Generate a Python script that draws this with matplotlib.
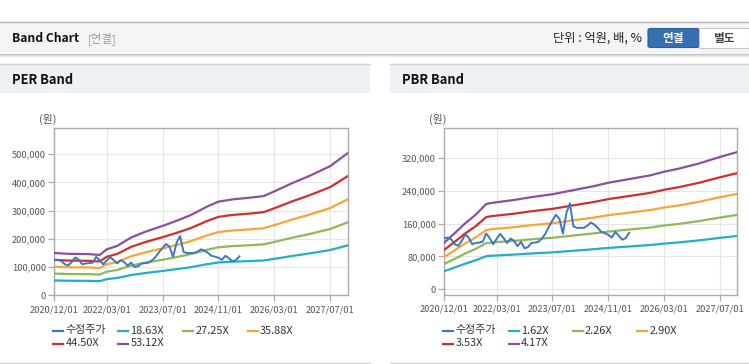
import matplotlib
matplotlib.use("Agg")
import matplotlib.pyplot as plt
from matplotlib.patches import Rectangle, FancyBboxPatch
from matplotlib.lines import Line2D
from matplotlib.ticker import FuncFormatter

plt.rcParams['font.family'] = ['Noto Sans CJK KR', 'DejaVu Sans']

# ---------------- data ----------------
tick_months = [0, 15, 31, 47, 63, 79]
tick_labels = ["2020/12/01", "2022/03/01", "2023/07/01", "2024/11/01", "2026/03/01", "2027/07/01"]

# adjusted stock price (수정주가), monthly from 2020/12
price_months = list(range(54))
price = [125, 126, 122, 110, 106, 118, 134, 126, 110, 113, 114, 116, 136, 125, 110, 123,
         135, 125, 113, 124, 118, 105, 116, 100, 103, 113, 114, 116, 124, 136, 153, 168,
         182, 172, 136, 186, 210, 154, 150, 150, 150, 155, 163, 158, 150, 140, 137, 133,
         126, 140, 131, 121, 125, 138]
price = [v * 1000 for v in price]

# PER bands
per_months = [0, 4, 10, 13, 15, 18, 22, 26, 31, 35, 39, 44, 47, 51, 56, 60, 64, 68, 73, 79, 84]
per_1863 = [52.6, 51.6, 51.2, 50.2, 57.2, 61.4, 71.9, 78.9, 86.3, 92.6, 99.6, 110.8, 116.4, 119.2, 121.3, 123.4, 131.2, 139.2, 148.3, 160.6, 176.8]
per_2725 = [77.0, 75.4, 74.9, 73.4, 83.6, 89.8, 105.2, 115.4, 126.2, 135.4, 145.7, 162.1, 170.3, 174.4, 177.5, 180.6, 191.9, 203.7, 217.0, 235.0, 258.6]
per_3588 = [101.3, 99.3, 98.6, 96.6, 110.1, 118.2, 138.5, 152.0, 166.2, 178.3, 191.8, 213.5, 224.3, 229.7, 233.7, 237.8, 252.6, 268.2, 285.7, 309.4, 340.5]
per_4450 = [125.7, 123.1, 122.3, 119.8, 136.5, 146.6, 171.7, 188.5, 206.1, 221.2, 237.9, 264.7, 278.1, 284.8, 289.8, 294.9, 313.3, 332.6, 354.3, 383.7, 422.2]
per_5312 = [150, 147, 146, 143, 163, 175, 205, 225, 246, 264, 284, 316, 332, 340, 346, 352, 374, 397, 423, 458, 504]
per_labels = ["18.63X", "27.25X", "35.88X", "44.50X", "53.12X"]

# PBR bands
pbr_months = [0, 3, 6, 9, 12, 13, 15, 20, 25, 31, 37, 43, 47, 53, 59, 63, 67, 73, 79, 84]
pbr_162 = [44.3, 53.2, 62.5, 70.7, 80.8, 81.6, 82.6, 84.7, 87.4, 90.1, 94.0, 97.9, 101.0, 104.5, 108.0, 111.5, 114.2, 119.3, 125.5, 130.1]
pbr_226 = [61.8, 74.3, 87.3, 98.6, 112.7, 113.8, 115.2, 118.2, 122.0, 125.7, 131.2, 136.6, 140.9, 145.8, 150.7, 155.6, 159.3, 166.4, 175.1, 181.6]
pbr_290 = [79.3, 95.3, 112.0, 126.6, 144.6, 146.0, 147.8, 151.6, 156.5, 161.3, 168.3, 175.2, 180.8, 187.1, 193.3, 199.6, 204.4, 213.5, 224.6, 233.0]
pbr_353 = [96.5, 116.0, 136.3, 154.1, 176.1, 177.8, 179.9, 184.5, 190.5, 196.4, 204.9, 213.3, 220.1, 227.7, 235.3, 242.9, 248.9, 259.9, 273.4, 283.6]
pbr_417 = [114, 137, 161, 182, 208, 210, 212.5, 218, 225, 232, 242, 252, 260, 269, 278, 287, 294, 307, 323, 335]
pbr_labels = ["1.62X", "2.26X", "2.90X", "3.53X", "4.17X"]

per_yticks = [0, 100000, 200000, 300000, 400000, 500000]
pbr_yticks = [0, 80000, 160000, 240000, 320000]

# ---------------- style ----------------
C_PRICE = "#3a78c6"
BAND_COLORS = ["#22aec4", "#90b758", "#f5a636", "#cf302c", "#8c4f9c"]

W, H = 749, 364
fig = plt.figure(figsize=(W / 100, H / 100), dpi=100)
fig.patch.set_facecolor("white")


def fx(x):
    return x / W


def fy(y):
    return 1 - y / H


def rect(x0, y0, x1, y1, fc, ec="none", lw=0, z=0):
    fig.patches.append(Rectangle((fx(x0), fy(y1)), fx(x1) - fx(x0), fy(y0) - fy(y1),
                                 transform=fig.transFigure, facecolor=fc, edgecolor=ec,
                                 linewidth=lw, zorder=z))


def hline(x0, x1, y, color, lw=1.0, z=1):
    fig.lines.append(Line2D([fx(x0), fx(x1)], [fy(y), fy(y)], transform=fig.transFigure,
                            color=color, linewidth=lw, zorder=z))


# top header bar
rect(0, 22, 749, 53, "#f4f4f4")
for i, c in enumerate(["#c4c4c4", "#d8d8d8", "#eaeaea"]):
    hline(0, 749, 54 + i, c, lw=0.9)
hline(0, 749, 22.3, "#b3b3b3", lw=1.0)
fig.text(fx(11.5), fy(38.5), "Band Chart", fontsize=8.7, fontweight="bold", color="#111111",
         va="center", ha="left")
fig.text(fx(88), fy(38.5), "[연결]", fontsize=8.2, color="#999999", va="center", ha="left")
fig.text(fx(642), fy(38.5), "단위 : 억원, 배, %", fontsize=8.8, color="#222222", va="center", ha="right")
# buttons
fig.patches.append(FancyBboxPatch((fx(648), fy(47.5)), fx(699) - fx(648), fy(28.5) - fy(47.5),
                                  boxstyle="round,pad=0,rounding_size=0.004",
                                  transform=fig.transFigure, facecolor="#3570b0",
                                  edgecolor="#2c5f99", linewidth=0.8, zorder=2))
fig.text(fx(673.5), fy(38.5), "연결", fontsize=8.4, fontweight="bold", color="white",
         va="center", ha="center", zorder=3)
rect(699, 28.5, 749, 47.5, "white", ec="#c8c8c8", lw=0.8, z=2)
fig.text(fx(724), fy(38.5), "별도", fontsize=8.4, fontweight="bold", color="#444444",
         va="center", ha="center", zorder=3)

# panel headers
for (x0, x1, title) in [(0, 370, "PER Band"), (390, 749, "PBR Band")]:
    rect(x0, 64, x1, 93, "#eef1f6")
    hline(x0, x1, 64.3, "#d2d2d2", lw=1.0)
    hline(x0, x1, 362.7, "#d0d0d0", lw=1.0)
    fig.text(fx(x0 + 11.5), fy(79.5), title, fontsize=9.3, fontweight="bold",
             color="#111111", va="center", ha="left")


def comma(v, pos):
    return f"{int(v):,}"


def make_axes(rect_px, ylim, yticks, band_x, bands, ylabel_x):
    x0, y0, x1, y1 = rect_px
    ax = fig.add_axes([fx(x0), fy(y1), fx(x1) - fx(x0), fy(y0) - fy(y1)])
    ax.set_xlim(0, 84)
    ax.set_ylim(*ylim)
    ax.set_xticks(tick_months)
    ax.set_xticklabels(tick_labels)
    ax.set_yticks(yticks)
    ax.yaxis.set_major_formatter(FuncFormatter(comma))
    ax.grid(True, color="#e6e6e6", linewidth=0.8)
    ax.set_axisbelow(True)
    for s in ax.spines.values():
        s.set_color("#ababab")
        s.set_linewidth(1.0)
    ax.tick_params(axis="both", colors="#aaaaaa", labelcolor="#555555", labelsize=6.7,
                   length=4, width=0.9, pad=2)
    ax.tick_params(axis="x", pad=3)
    ax.plot(price_months, price, color=C_PRICE, linewidth=1.4, zorder=4)
    for vals, col in zip(bands, BAND_COLORS):
        ax.plot(band_x, [v * 1000 for v in vals], color=col, linewidth=1.6, zorder=3)
    fig.text(fx(ylabel_x), fy(119.5), "(원)", fontsize=7.8, color="#555555",
             va="center", ha="left")
    return ax


make_axes((54.3, 128.3, 347.7, 295.3), (0, 592000), per_yticks, per_months,
          [per_1863, per_2725, per_3588, per_4450, per_5312], 38.5)
make_axes((444.3, 128.3, 737.3, 295.0), (-14000, 393000), pbr_yticks, pbr_months,
          [pbr_162, pbr_226, pbr_290, pbr_353, pbr_417], 429)


def legend_item(xm, y, color, label):
    fig.lines.append(Line2D([fx(xm), fx(xm + 10)], [fy(y), fy(y)], transform=fig.transFigure,
                            color=color, linewidth=1.6))
    fig.text(fx(xm + 12.5), fy(y), label, fontsize=7.9, color="#333333", va="center", ha="left")


# PER legend
legend_item(53, 330.5, C_PRICE, "수정주가")
legend_item(118, 330.5, BAND_COLORS[0], per_labels[0])
legend_item(183, 330.5, BAND_COLORS[1], per_labels[1])
legend_item(247.5, 330.5, BAND_COLORS[2], per_labels[2])
legend_item(53, 343.5, BAND_COLORS[3], per_labels[3])
legend_item(118, 343.5, BAND_COLORS[4], per_labels[4])

# PBR legend
legend_item(443, 330.5, C_PRICE, "수정주가")
legend_item(508.5, 330.5, BAND_COLORS[0], pbr_labels[0])
legend_item(572.5, 330.5, BAND_COLORS[1], pbr_labels[1])
legend_item(637, 330.5, BAND_COLORS[2], pbr_labels[2])
legend_item(443, 343.5, BAND_COLORS[3], pbr_labels[3])
legend_item(508.5, 343.5, BAND_COLORS[4], pbr_labels[4])

fig.savefig("out.png", dpi=100, facecolor="white")
